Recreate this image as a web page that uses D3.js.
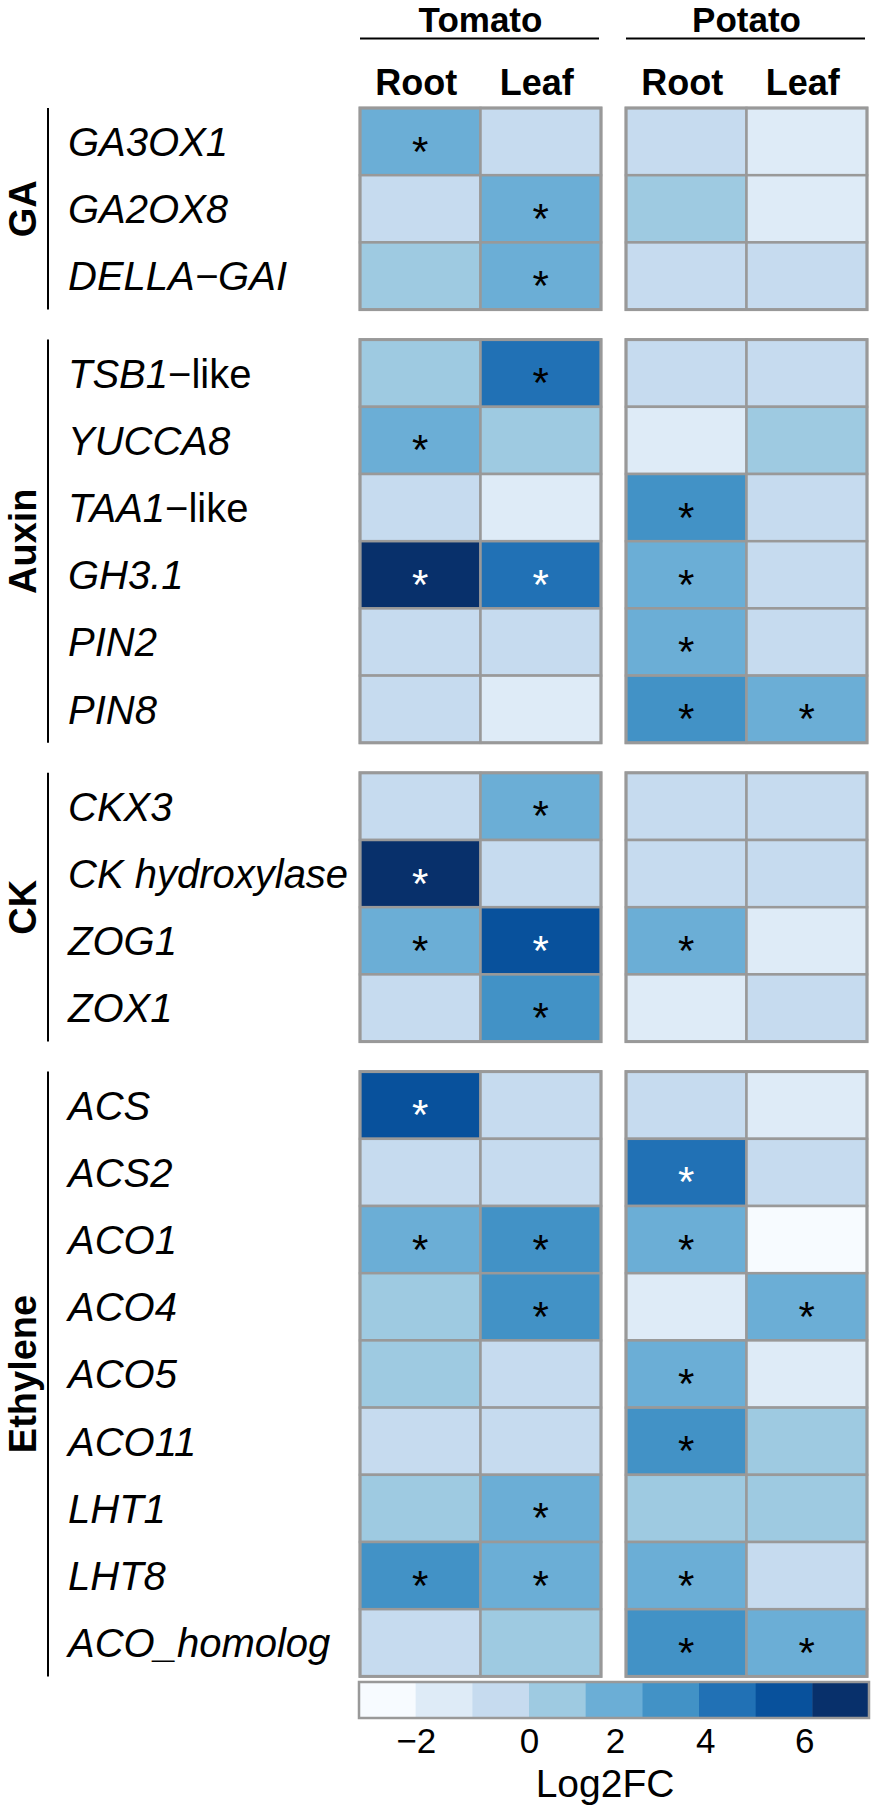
<!DOCTYPE html>
<html>
<head>
<meta charset="utf-8">
<script src="https://cdn.jsdelivr.net/npm/d3@7"></script>
<style>
	html, body { margin: 0; padding: 0; background: #fff; }
	svg { display: block; font-family: "Liberation Sans", Arial, Helvetica, sans-serif; }
</style>
</head>
<body>
<svg id="chart"></svg>
<script>
// ------------------------
// Data
// ------------------------
const groups = [ 'GA', 'Auxin', 'CK', 'Ethylene' ];
const genes = [
	'GA3OX1', 'GA2OX8', 'DELLA\u2212GAI',
	'TSB1', 'YUCCA8', 'TAA1', 'GH3.1', 'PIN2', 'PIN8',
	'CKX3', 'CK hydroxylase', 'ZOG1', 'ZOX1',
	'ACS', 'ACS2', 'ACO1', 'ACO4', 'ACO5', 'ACO11', 'LHT1', 'LHT8', 'ACO_homolog',
];
// upright suffix after the italic gene name
const geneSuffix = [ '', '', '', '\u2212like', '', '\u2212like', '', '', '', '', '', '', '', '', '', '', '', '', '', '', '', '' ];
const geneGroup = [
	'GA', 'GA', 'GA',
	'Auxin', 'Auxin', 'Auxin', 'Auxin', 'Auxin', 'Auxin',
	'CK', 'CK', 'CK', 'CK',
	'Ethylene', 'Ethylene', 'Ethylene', 'Ethylene', 'Ethylene', 'Ethylene', 'Ethylene', 'Ethylene', 'Ethylene',
];
const species = [ 'Tomato', 'Potato' ];
const tissues = [ 'Root', 'Leaf' ];

// Log2FC
const tomatoRoot = [ 2.0, -0.6, 0.7, 0.6, 2.1, -0.5, 7.0, -0.5, -0.6, -0.5, 6.9, 2.1, -0.5, 5.7, -0.5, 2.2, 0.7, 0.8, -0.6, 0.8, 3.2, -0.5 ];
const tomatoLeaf = [ -0.5, 2.1, 2.0, 4.0, 0.8, -1.4, 4.6, -0.6, -1.5, 2.0, -0.6, 5.6, 3.3, -0.5, -0.6, 3.3, 3.4, -0.5, -0.5, 2.0, 2.1, 0.7 ];
const potatoRoot = [ -0.6, 0.8, -0.5, -0.5, -1.5, 3.3, 2.2, 2.1, 3.4, -0.6, -0.5, 2.0, -1.4, -0.6, 4.6, 2.1, -1.5, 2.0, 3.3, 0.7, 2.0, 3.4 ];
const potatoLeaf = [ -1.4, -1.5, -0.6, -0.6, 0.8, -0.6, -0.5, -0.5, 2.0, -0.5, -0.6, -1.5, -0.6, -1.4, -0.5, -2.4, 2.1, -1.4, 0.7, 0.8, -0.6, 2.0 ];

// significance marks
const tomatoRootSig = [ 1, 0, 0, 0, 1, 0, 1, 0, 0, 0, 1, 1, 0, 1, 0, 1, 0, 0, 0, 0, 1, 0 ];
const tomatoLeafSig = [ 0, 1, 1, 1, 0, 0, 1, 0, 0, 1, 0, 1, 1, 0, 0, 1, 1, 0, 0, 1, 1, 0 ];
const potatoRootSig = [ 0, 0, 0, 0, 0, 1, 1, 1, 1, 0, 0, 1, 0, 0, 1, 1, 0, 1, 1, 0, 1, 1 ];
const potatoLeafSig = [ 0, 0, 0, 0, 0, 0, 0, 0, 1, 0, 0, 0, 0, 0, 0, 0, 1, 0, 0, 0, 0, 1 ];

// colour key
const legendBreaks = [ -3, -2, -1, 0, 1.33, 2.63, 3.88, 4.97, 6.17, 7.3 ];
const legendColors = [ '#f7fbff', '#deebf7', '#c6dbef', '#9ecae1', '#6baed6', '#4292c6', '#2171b5', '#08519c', '#08306b' ];
const legendTicks = [ -2, 0, 2, 4, 6 ];

// ------------------------
// Layout
// ------------------------
const W = 874;
const H = 1810;
const topY = 108;
const rowH = 67.2;
const groupGap = 30;
const panelX = { Tomato: [ 360, 601 ], Potato: [ 626, 867 ] };
const gridColor = '#999999';

const svg = d3.select( '#chart' )
	.attr( 'width', W )
	.attr( 'height', H )
	.attr( 'viewBox', `0 0 ${ W } ${ H }` );

const color = d3.scaleThreshold()
	.domain( legendBreaks.slice( 1, -1 ) )
	.range( legendColors );

// one band scale per group, stacked with gaps
const groupScales = {};
let yCursor = topY;
groups.forEach( g => {
	const members = genes.filter( ( d, i ) => geneGroup[ i ] === g );
	groupScales[ g ] = d3.scaleBand()
		.domain( members )
		.range( [ yCursor, yCursor + members.length * rowH ] );
	yCursor += members.length * rowH + groupGap;
} );
const yOf = gene => groupScales[ geneGroup[ genes.indexOf( gene ) ] ]( gene );

const xScales = {};
species.forEach( s => {
	xScales[ s ] = d3.scaleBand().domain( tissues ).range( panelX[ s ] );
} );

const cells = [];
const cols = [
	[ 'Tomato', 'Root', tomatoRoot, tomatoRootSig ],
	[ 'Tomato', 'Leaf', tomatoLeaf, tomatoLeafSig ],
	[ 'Potato', 'Root', potatoRoot, potatoRootSig ],
	[ 'Potato', 'Leaf', potatoLeaf, potatoLeafSig ],
];
cols.forEach( ( [ s, t, vals, sig ] ) => {
	genes.forEach( ( g, i ) => cells.push( { species: s, tissue: t, gene: g, value: vals[ i ], sig: sig[ i ] } ) );
} );

renderHeader();
renderCells();
renderPanels();
renderRowLabels();
renderLegend();

function renderHeader() {
	species.forEach( s => {
		const [ x0, x1 ] = panelX[ s ];
		svg.append( 'text' )
			.attr( 'x', ( x0 + x1 ) / 2 )
			.attr( 'y', 32 )
			.attr( 'text-anchor', 'middle' )
			.attr( 'font-weight', 'bold' )
			.attr( 'font-size', 35 )
			.text( s );
		svg.append( 'line' )
			.attr( 'x1', x0 ).attr( 'x2', x1 - 2 )
			.attr( 'y1', 38.5 ).attr( 'y2', 38.5 )
			.attr( 'stroke', '#000' )
			.attr( 'stroke-width', 2 );
		tissues.forEach( t => {
			svg.append( 'text' )
				.attr( 'x', xScales[ s ]( t ) + xScales[ s ].bandwidth() / 2 - 4 )
				.attr( 'y', 95 )
				.attr( 'text-anchor', 'middle' )
				.attr( 'font-weight', 'bold' )
				.attr( 'font-size', 36 )
				.text( t );
		} );
	} );
}

function renderCells() {
	const g = svg.append( 'g' );
	const cell = g.selectAll( 'g' )
		.data( cells )
		.join( 'g' )
		.attr( 'transform', d => `translate(${ xScales[ d.species ]( d.tissue ) }, ${ yOf( d.gene ) })` );

	cell.append( 'rect' )
		.attr( 'width', xScales.Tomato.bandwidth() )
		.attr( 'height', rowH )
		.attr( 'fill', d => color( d.value ) )
		.attr( 'stroke', gridColor )
		.attr( 'stroke-width', 2.5 );

	cell.filter( d => d.sig )
		.append( 'text' )
		.attr( 'x', xScales.Tomato.bandwidth() / 2 )
		.attr( 'y', rowH / 2 + 24 )
		.attr( 'text-anchor', 'middle' )
		.attr( 'font-size', 42 )
		.attr( 'fill', d => ( d.value > 4.3 ? '#fff' : '#000' ) )
		.text( '*' );
}

function renderPanels() {
	groups.forEach( grp => {
		const y = groupScales[ grp ];
		const [ y0, y1 ] = y.range();
		species.forEach( s => {
			const [ x0, x1 ] = panelX[ s ];
			svg.append( 'rect' )
				.attr( 'x', x0 ).attr( 'y', y0 )
				.attr( 'width', x1 - x0 ).attr( 'height', y1 - y0 )
				.attr( 'fill', 'none' )
				.attr( 'stroke', gridColor )
				.attr( 'stroke-width', 3 );
		} );
		// group bracket + label
		svg.append( 'line' )
			.attr( 'x1', 48 ).attr( 'x2', 48 )
			.attr( 'y1', y0 ).attr( 'y2', y1 )
			.attr( 'stroke', '#000' )
			.attr( 'stroke-width', 2 );
		svg.append( 'text' )
			.attr( 'transform', `translate(36, ${ ( y0 + y1 ) / 2 }) rotate(-90)` )
			.attr( 'text-anchor', 'middle' )
			.attr( 'font-weight', 'bold' )
			.attr( 'font-size', 38 )
			.text( grp );
	} );
}

function renderRowLabels() {
	const labels = svg.append( 'g' )
		.selectAll( 'text' )
		.data( genes )
		.join( 'text' )
		.attr( 'x', 68 )
		.attr( 'y', d => yOf( d ) + rowH / 2 )
		.attr( 'dy', '0.36em' )
		.attr( 'font-size', 40 );

	labels.append( 'tspan' )
		.attr( 'font-style', 'italic' )
		.text( d => d );
	labels.append( 'tspan' )
		.text( ( d, i ) => geneSuffix[ i ] );
}

function renderLegend() {
	const lx = d3.scaleLinear()
		.domain( legendBreaks )
		.range( legendBreaks.map( ( d, i ) => 359 + i * ( 510 / 9 ) ) );
	const ly = 1682;
	const lh = 36;
	const g = svg.append( 'g' );

	g.selectAll( 'rect.key' )
		.data( legendColors )
		.join( 'rect' )
		.attr( 'class', 'key' )
		.attr( 'x', ( d, i ) => lx( legendBreaks[ i ] ) )
		.attr( 'y', ly )
		.attr( 'width', ( d, i ) => lx( legendBreaks[ i + 1 ] ) - lx( legendBreaks[ i ] ) + 0.5 )
		.attr( 'height', lh )
		.attr( 'fill', d => d );

	g.append( 'rect' )
		.attr( 'x', lx( legendBreaks[ 0 ] ) )
		.attr( 'y', ly )
		.attr( 'width', lx( legendBreaks[ 9 ] ) - lx( legendBreaks[ 0 ] ) )
		.attr( 'height', lh )
		.attr( 'fill', 'none' )
		.attr( 'stroke', gridColor )
		.attr( 'stroke-width', 2.5 );

	const axis = d3.axisBottom( lx )
		.tickValues( legendTicks )
		.tickSize( 0 )
		.tickPadding( 0 )
		.tickFormat( d => ( d < 0 ? '\u2212' + Math.abs( d ) : d ) );
	const ax = g.append( 'g' )
		.attr( 'transform', `translate(0, ${ ly + lh })` )
		.call( axis );
	ax.select( '.domain' ).remove();
	ax.selectAll( 'text' )
		.attr( 'y', 35 )
		.attr( 'dy', 0 )
		.attr( 'font-size', 35 )
		.attr( 'font-family', 'Liberation Sans, Arial, sans-serif' )
		.attr( 'fill', '#000' );

	g.append( 'text' )
		.attr( 'x', 605 )
		.attr( 'y', 1797 )
		.attr( 'text-anchor', 'middle' )
		.attr( 'font-size', 39 )
		.text( 'Log2FC' );
}
</script>
</body>
</html>
